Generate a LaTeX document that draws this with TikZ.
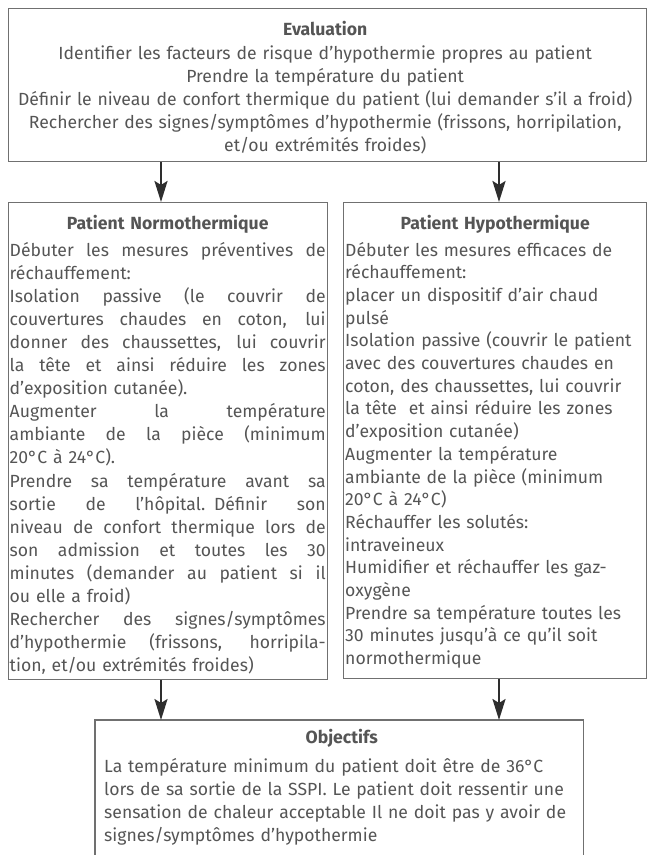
\documentclass[tikz,border=0pt]{standalone}
\usepackage{fontspec}
\setmainfont{Fira Sans}
\usetikzlibrary{arrows.meta,calc}
\setlength{\parindent}{0pt}
\definecolor{txtc}{HTML}{555555}
\definecolor{bordc}{HTML}{707070}
\definecolor{arrc}{HTML}{2E2E2E}
\newcommand{\jl}[1]{\hbox to \hsize{\spaceskip=0.25em plus 2em\relax #1}\par}
\newcommand{\nl}[1]{\hbox{#1}\par}
\newcommand{\cl}[1]{\hbox to \hsize{\hfil #1\hfil}\par}
\newcommand{\ttl}[2]{\hbox to \hsize{\hfil\bfseries #2\hfil}\par\vskip #1}
\tikzset{
  boxst/.style={draw=bordc, line width=1.2bp, inner sep=0pt, anchor=north west},
  txtst/.style={text=txtc, inner sep=0pt, anchor=north west,
    font=\fontsize{17.6bp}{23.1bp}\selectfont},
  arrowst/.style={draw=arrc, line width=2.4bp, -{Stealth[length=21bp,width=13bp,inset=4bp]}},
}
\begin{document}
\begin{tikzpicture}[x=1bp,y=-1bp]
\path[use as bounding box] (0,0) rectangle (648,855);
% boxes
\node[boxst, minimum width=638bp, minimum height=153bp] (eval) at (8,8) {};
\node[boxst, minimum width=319bp, minimum height=477bp] (norm) at (8,202) {};
\node[boxst, minimum width=303bp, minimum height=476bp] (hypo) at (343,202) {};
\node[inner sep=0pt, minimum width=488bp, minimum height=140bp, anchor=north west] (obj) at (95,720) {};
\draw[draw=bordc, line width=1.2bp] (obj.south west) -- (obj.north west) -- (obj.north east) -- (obj.south east);
% texts
\node[txtst, text width=630bp] (evaltxt) at (10,21.5) {%
\ttl{0bp}{Evaluation}
\cl{Identifier les facteurs de risque d’hypothermie propres au patient}
\cl{Prendre la température du patient}
\cl{Définir le niveau de confort thermique du patient (lui demander s’il a froid)}
\cl{Rechercher des signes/symptômes d’hypothermie (frissons, horripilation,}
\cl{et/ou extrémités froides)}};
\node[txtst, text width=316bp] (normtxt) at (9.5,215.5) {%
\ttl{3bp}{Patient Normothermique}
\jl{Débuter les mesures préventives de}
\nl{réchauffement:}
\jl{Isolation passive (le couvrir de}
\jl{couvertures chaudes en coton, lui}
\jl{donner des chaussettes, lui couvrir}
\jl{la tête et ainsi réduire les zones}
\nl{d’exposition cutanée).}
\jl{Augmenter la température}
\jl{ambiante de la pièce (minimum}
\nl{20°C à 24°C).}
\jl{Prendre sa température avant sa}
\jl{sortie de l’hôpital. Définir son}
\jl{niveau de confort thermique lors de}
\jl{son admission et toutes les 30}
\jl{minutes (demander au patient si il}
\nl{ou elle a froid)}
\jl{Rechercher des signes/symptômes}
\jl{d’hypothermie (frissons, horripila-}
\nl{tion, et/ou extrémités froides)}};
\node[txtst, text width=300bp, font=\fontsize{17.6bp}{22.7bp}\selectfont] (hypotxt) at (345,215.5) {%
\ttl{3.4bp}{Patient Hypothermique}
\nl{Débuter les mesures efficaces de}
\nl{réchauffement:}
\nl{placer un dispositif d’air chaud}
\nl{pulsé}
\nl{Isolation passive (couvrir le patient}
\nl{avec des couvertures chaudes en}
\nl{coton, des chaussettes, lui couvrir}
\nl{la tête\ \ et ainsi réduire les zones}
\nl{d’exposition cutanée)}
\nl{Augmenter la température}
\nl{ambiante de la pièce (minimum}
\nl{20°C à 24°C)}
\nl{Réchauffer les solutés:}
\nl{intraveineux}
\nl{Humidifier et réchauffer les gaz-}
\nl{oxygène}
\nl{Prendre sa température toutes les}
\nl{30 minutes jusqu’à ce qu’il soit}
\nl{normothermique}};
\node[txtst, text width=475bp] (objtxt) at (104,729.5) {%
\ttl{5bp}{Objectifs}
\nl{La température minimum du patient doit être de 36°C}
\nl{lors de sa sortie de la SSPI. Le patient doit ressentir une}
\nl{sensation de chaleur acceptable Il ne doit pas y avoir de}
\nl{signes/symptômes d’hypothermie}};
% arrows
\coordinate (c1) at (161,0);
\coordinate (c2) at (499,0);
\draw[arrowst] (eval.south -| c1) -- (norm.north -| c1);
\draw[arrowst] (eval.south -| c2) -- (hypo.north -| c2);
\draw[arrowst] (norm.south -| c1) -- (obj.north -| c1);
\draw[arrowst] (hypo.south -| c2) -- (obj.north -| c2);
\end{tikzpicture}
\end{document}
